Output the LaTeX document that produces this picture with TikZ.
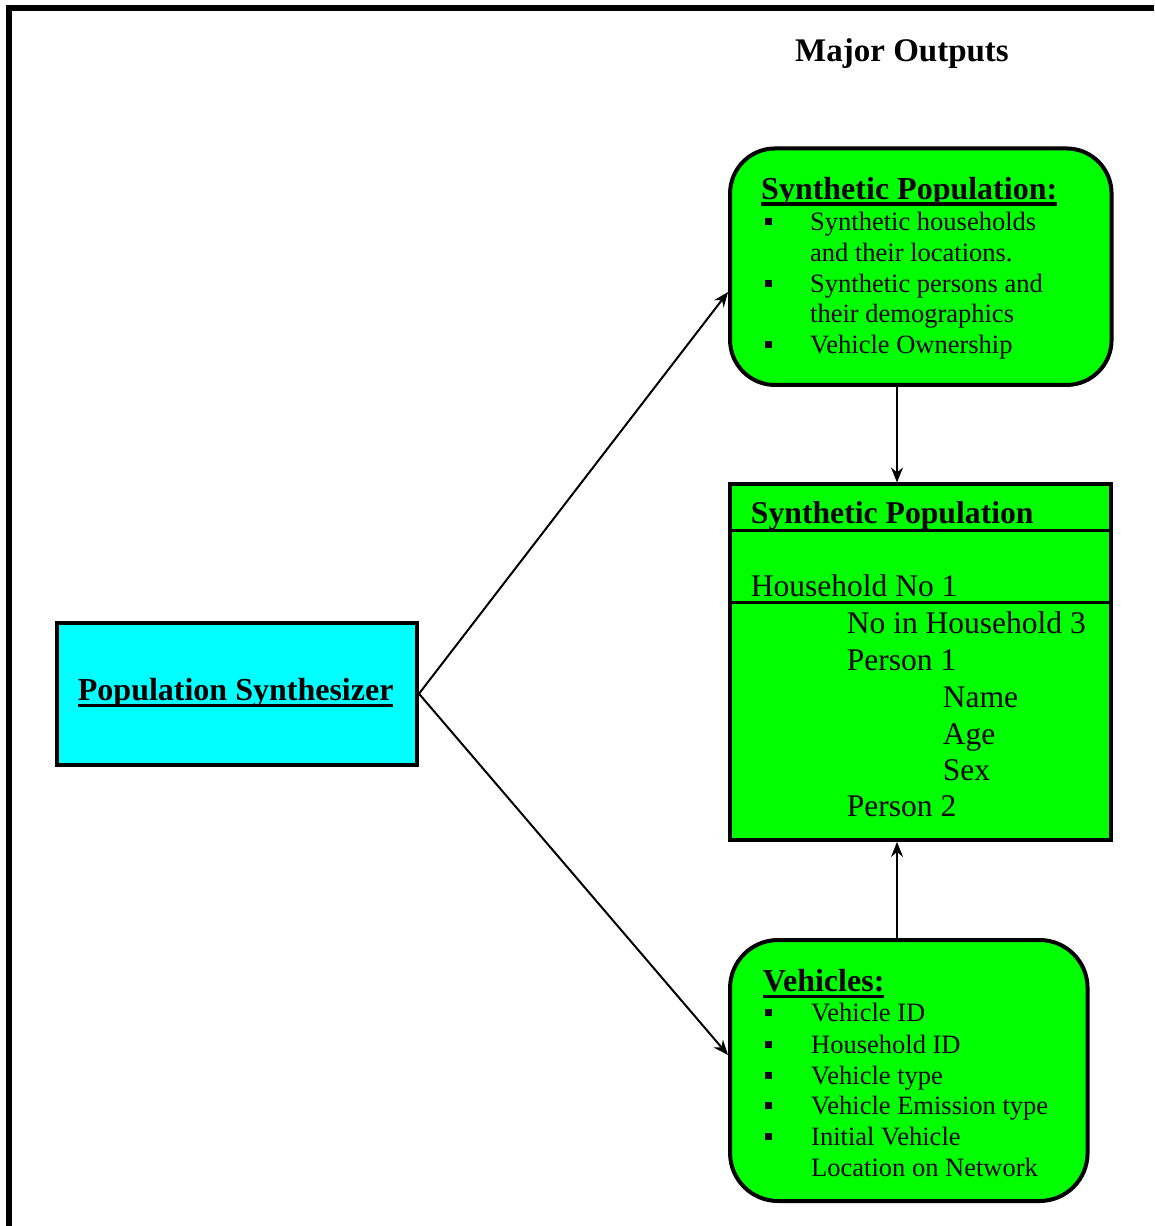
\documentclass[tikz,border=0pt]{standalone}
\usepackage{fontspec}
\setmainfont{Liberation Serif}
\usetikzlibrary{arrows.meta,calc}
\definecolor{boxgreen}{RGB}{0,255,0}
\definecolor{boxcyan}{RGB}{0,255,255}
% heading with a heavy underline drawn just under the baseline
\newcommand\headul[1]{\setbox0\hbox{#1}\rlap{\rule[-6.5pt]{\wd0}{3.2pt}}\box0}
% small square bullet followed by the indent of the item text
\newcommand\sqbullet[1]{\makebox[#1][l]{\raisebox{5.5pt}{\rule{7pt}{7pt}}}}
\begin{document}
\begin{tikzpicture}[x=1pt,y=-1pt,
  box/.style={draw, line width=4pt, inner sep=0pt},
  rbox/.style={box, fill=boxgreen, rounded corners=45pt},
  head/.style={anchor=base west, inner sep=0pt, font=\fontsize{32}{38}\selectfont\bfseries},
  item/.style={anchor=base west, inner sep=0pt, font=\fontsize{26.5}{31}\selectfont},
  row/.style={anchor=base west, inner sep=0pt, font=\fontsize{31.5}{37}\selectfont},
  arr/.style={line width=2pt, -{Stealth[length=15pt,width=12pt,inset=5pt]}}]
\useasboundingbox (0,0) rectangle (1154,1226);

% outer frame (open to the right and bottom)
\draw[line width=5.5pt] (9,1226) -- (9,8.2) -- (1154,8.2);

\node[anchor=base, inner sep=0pt, font=\fontsize{33}{40}\selectfont\bfseries] (title) at (902,61) {Major Outputs};

% source box
\node[box, fill=boxcyan, minimum width=360pt, minimum height=142pt] (synth) at (237,693.7) {};
\node[head, anchor=base] (synthT) at (235.7,700.7) {\headul{Population Synthesizer}};

% synthetic population summary
\node[rbox, minimum width=381.5pt, minimum height=236.5pt] (pop) at (920.8,266.7) {};
\node[head] (popH) at (761,199) {\headul{Synthetic Population:}};
\node[item] (pop1) at (764.5,230) {\sqbullet{45.5pt}Synthetic households};
\node[item] (pop1b) at (810,261) {and their locations.};
\node[item] (pop2) at (764.5,292) {\sqbullet{45.5pt}Synthetic persons and};
\node[item] (pop2b) at (810,322) {their demographics};
\node[item] (pop3) at (764.5,353) {\sqbullet{45.5pt}Vehicle Ownership};

% record layout table
\node[box, fill=boxgreen, minimum width=381pt, minimum height=355.5pt] (tab) at (920.5,662.2) {};
\coordinate (r1) at (0,530.7);
\coordinate (r2) at (0,602.7);
\draw[line width=3pt] (tab.west |- r1) -- (tab.east |- r1);
\draw[line width=3pt] (tab.west |- r2) -- (tab.east |- r2);
\node[head, font=\fontsize{31.7}{38}\selectfont\bfseries] (tabH) at (750.7,523) {Synthetic Population};
\node[row] (hh) at (750.7,596.7) {Household No 1};
\node[row] (nhh) at (846.7,633.3) {No in Household 3};
\node[row] (p1) at (846.7,670) {Person 1};
\node[row] (nm) at (942.7,707) {Name};
\node[row] (ag) at (942.7,744) {Age};
\node[row] (sx) at (942.7,780) {Sex};
\node[row] (p2) at (846.7,816.7) {Person 2};

% vehicles
\node[rbox, rounded corners=48pt, minimum width=357.5pt, minimum height=261pt] (veh) at (908.8,1070.5) {};
\node[head] (vehH) at (762.7,991.7) {\headul{Vehicles:}};
\node[item] (v1) at (765,1021.7) {\sqbullet{46pt}Vehicle ID};
\node[item] (v2) at (765,1053) {\sqbullet{46pt}Household ID};
\node[item] (v3) at (765,1084) {\sqbullet{46pt}Vehicle type};
\node[item] (v4) at (765,1114.3) {\sqbullet{46pt}Vehicle Emission type};
\node[item] (v5) at (765,1145.3) {\sqbullet{46pt}Initial Vehicle};
\node[item] (v5b) at (811,1176) {Location on Network};

% connectors
\coordinate (vx) at (897,0);
\draw[arr] (synth.east) -- ([yshift=-25.3pt]pop.west);
\draw[arr] (synth.east) -- ([yshift=15.5pt]veh.west);
\draw[arr] (pop.south -| vx) -- (tab.north -| vx);
\draw[arr] (veh.north -| vx) -- (tab.south -| vx);
\end{tikzpicture}
\end{document}
